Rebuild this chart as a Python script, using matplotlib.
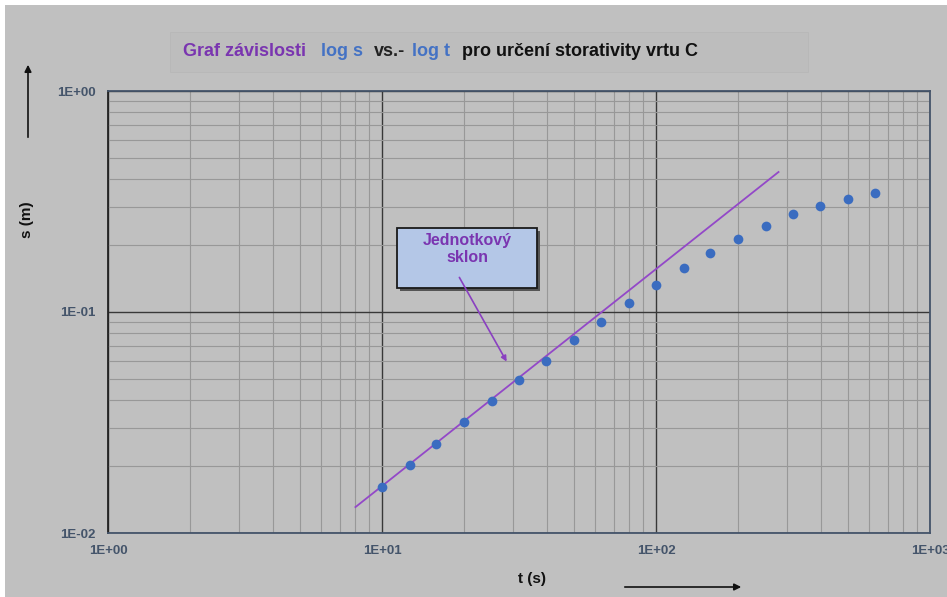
import matplotlib
matplotlib.use("Agg")
import matplotlib.pyplot as plt
from matplotlib.patches import Rectangle, FancyArrowPatch
from matplotlib.ticker import LogLocator, FixedLocator, FixedFormatter

# measured drawdown s (m) vs time t (s)
t_data = [10, 12.6, 15.8, 20, 25.1, 31.6, 39.8, 50.1, 63.1, 79.4,
          100, 126, 158, 200, 251, 316, 398, 501, 631]
s_data = [0.0162, 0.0203, 0.0253, 0.0318, 0.0396, 0.0492, 0.060, 0.0747, 0.0901, 0.110,
          0.1325, 0.158, 0.185, 0.214, 0.245, 0.278, 0.302, 0.325, 0.345]

# unit slope line
line_t = [8.0, 280.0]
line_s = [0.0131, 0.43]

x_ticks = [1, 10, 100, 1000]
x_labels = ["1E+00", "1E+01", "1E+02", "1E+03"]
y_ticks = [0.01, 0.1, 1]
y_labels = ["1E-02", "1E-01", "1E+00"]

BG = "#c0c0c0"
SLATE = "#44546a"
PURPLE = "#7a35b0"
BLUE = "#4472c4"
W, H = 947, 597

fig = plt.figure(figsize=(W / 100, H / 100), dpi=100)
fig.patch.set_facecolor("white")
fig.patches.append(Rectangle((5 / W, 0), 1, 1 - 5 / H, transform=fig.transFigure,
                             facecolor=BG, edgecolor="none", zorder=-10))

ax = fig.add_axes([108 / W, 1 - 533 / H, 822 / W, 442 / H])
ax.set_zorder(2)
ax.set_facecolor(BG)
ax.set_xscale("log")
ax.set_yscale("log")
ax.set_xlim(1, 1000)
ax.set_ylim(0.01, 1)

ax.xaxis.set_major_locator(FixedLocator(x_ticks))
ax.xaxis.set_major_formatter(FixedFormatter(x_labels))
ax.yaxis.set_major_locator(FixedLocator(y_ticks))
ax.yaxis.set_major_formatter(FixedFormatter(y_labels))
ax.xaxis.set_minor_locator(LogLocator(base=10, subs=range(2, 10)))
ax.yaxis.set_minor_locator(LogLocator(base=10, subs=range(2, 10)))
ax.xaxis.set_minor_formatter(plt.NullFormatter())
ax.yaxis.set_minor_formatter(plt.NullFormatter())

ax.grid(True, which="major", color="#383838", linewidth=1.0)
ax.grid(True, which="minor", color="#989898", linewidth=0.8)
ax.set_axisbelow(True)
ax.tick_params(which="both", length=0)
ax.tick_params(axis="x", pad=9, labelsize=9.5, labelcolor=SLATE)
ax.tick_params(axis="y", pad=9, labelsize=9.5, labelcolor=SLATE)
for lbl in ax.get_xticklabels() + ax.get_yticklabels():
    lbl.set_fontweight("bold")
    lbl.set_family("Liberation Sans")

for side in ["top", "right", "bottom"]:
    ax.spines[side].set_color(SLATE)
    ax.spines[side].set_linewidth(1.3)
ax.spines["left"].set_color("#222222")
ax.spines["left"].set_linewidth(1.3)

ax.plot(line_t, line_s, color="#9348c8", linewidth=1.3, zorder=3)
ax.plot(t_data, s_data, "o", color="#3a6cc0", markersize=7, markeredgewidth=0, zorder=4)

# title box
fig.patches.append(Rectangle((170 / W, 1 - 72 / H), 638 / W, 40 / H, transform=fig.transFigure,
                             facecolor="#bdbdbd", edgecolor="#b8b8b8", linewidth=0.6, zorder=1))
parts = [(183, "Graf závislosti", PURPLE), (321, "log s", BLUE), (374, "vs.-", "#222222"),
         (412, "log t", BLUE), (462, "pro určení storativity vrtu C", "#111111")]
for px, txt, col in parts:
    fig.text(px / W, 1 - 52 / H, txt, color=col, fontweight="bold", fontsize=13,
             family="Liberation Sans", va="center", ha="left", zorder=2)

# axis labels and arrows
fig.text(27 / W, 1 - 220 / H, "s (m)", rotation=90, fontsize=11, fontweight="bold",
         family="Liberation Sans", ha="center", va="center", color="#111111")
fig.text(532 / W, 1 - 579 / H, "t (s)", fontsize=11, fontweight="bold",
         family="Liberation Sans", ha="center", va="center", color="#111111")
fig.patches.append(FancyArrowPatch((28 / W, 1 - 140 / H), (28 / W, 1 - 62 / H),
                                   transform=fig.transFigure, arrowstyle="-|>",
                                   mutation_scale=10, color="#111111", linewidth=1.2))
fig.patches.append(FancyArrowPatch((622 / W, 1 - 587 / H), (744 / W, 1 - 587 / H),
                                   transform=fig.transFigure, arrowstyle="-|>",
                                   mutation_scale=10, color="#111111", linewidth=1.2))

# annotation box, above the axes
fig.patches.append(Rectangle((400 / W, 1 - 291 / H), 140 / W, 60 / H, transform=fig.transFigure,
                             facecolor="#555555", edgecolor="none", zorder=5))
fig.patches.append(Rectangle((397 / W, 1 - 288 / H), 140 / W, 60 / H, transform=fig.transFigure,
                             facecolor="#b4c7e7", edgecolor="#1a1a1a", linewidth=1.3, zorder=6))
fig.text(467 / W, 1 - 249 / H, "Jednotkový\nsklon", color=PURPLE, fontsize=11.5,
         fontweight="bold", family="Liberation Sans", ha="center", va="center",
         linespacing=1.15, zorder=7)
fig.patches.append(FancyArrowPatch((458 / W, 1 - 275 / H), (508 / W, 1 - 364 / H),
                                   transform=fig.transFigure, arrowstyle="-|>",
                                   mutation_scale=8, color="#8a40c0", linewidth=1.2, zorder=7))

fig.savefig("out.png", dpi=100, facecolor=fig.get_facecolor())
